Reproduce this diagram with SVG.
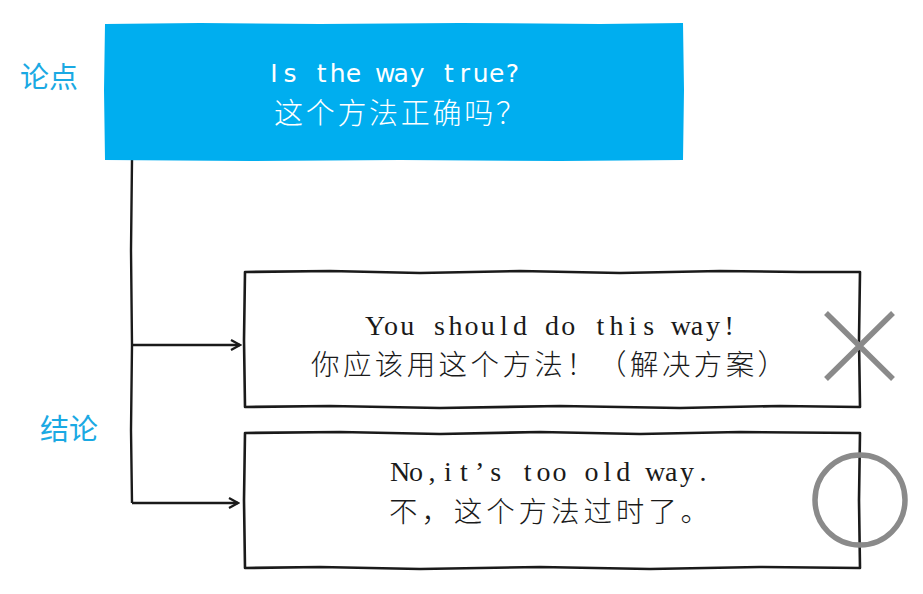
<svg xmlns="http://www.w3.org/2000/svg" width="923" height="594" viewBox="0 0 923 594">
<style>
.lbl{font-family:"Noto Sans CJK SC","Noto Sans",sans-serif;font-size:29px;fill:#1aa9e3}
.en-w{font-family:"DejaVu Sans","Noto Sans",sans-serif;font-size:25px;fill:#fff}
.cn-w{font-family:"Noto Sans CJK SC",sans-serif;font-size:29px;fill:#fff;letter-spacing:2.7px;font-weight:300}
.en-b{font-family:"Liberation Serif","Noto Sans CJK SC",serif;font-size:28px;fill:#1a1a1a}
.cn-b{font-family:"Noto Sans CJK SC",sans-serif;font-size:28.5px;fill:#1a1a1a;letter-spacing:3.4px;font-weight:300}
.box{fill:#fff;stroke:#1a1a1a;stroke-width:2.6;stroke-linejoin:round}
.conn{fill:none;stroke:#1a1a1a;stroke-width:2.4}
.mark{fill:none;stroke:#8a8a8a;stroke-width:5.5;stroke-linecap:butt}
</style>
<defs>
<marker id="arr" viewBox="0 0 12 12" refX="10" refY="6" markerWidth="12" markerHeight="12" markerUnits="userSpaceOnUse" orient="auto">
<path d="M1,1 L10,6 L1,11" fill="none" stroke="#1a1a1a" stroke-width="2.2"/>
</marker>
</defs>
<rect width="923" height="594" fill="#fff"/>

<g id="connectors">
<path class="conn" d="M132,160 L131,250 L132,345 L131,430 L132,503"/>
<path class="conn" d="M132,345 L240,345" marker-end="url(#arr)"/>
<path class="conn" d="M132,503 L238,503" marker-end="url(#arr)"/>
</g>

<g id="label-argument">
<text class="lbl" x="20" y="88">论点</text>
</g>
<g id="label-conclusion">
<text class="lbl" x="40" y="440">结论</text>
</g>

<g id="node-question">
<path d="M105,24 L200,23 L320,24 L460,23 L600,24 L683,23 L684,90 L683,160 L560,161 L400,160 L250,161 L105,160 L104,90 Z" fill="#00aeef"/>
<text class="en-w" y="82" text-anchor="middle" x="274 289.9 305.8 321.7 337.6 353.5 369.4 385.3 401.2 417.1 433 448.9 464.8 480.7 496.6 512.5">Is the way true?</text>
<text class="cn-w" x="274" y="124">这个方法正确吗？</text>
</g>

<g id="node-solution">
<path class="box" d="M245,272 L330,271 L420,273 L520,271 L620,273 L720,271 L800,272 L860,272 L859,340 L860,407 L780,406 L680,408 L560,406 L440,408 L330,406 L245,407 L244,340 Z"/>
<text class="en-b" y="335" text-anchor="middle" x="375 391.1 407.2 423.3 439.4 455.5 471.6 487.7 503.8 519.9 536 552.1 568.2 584.3 600.4 616.5 632.6 648.7 664.8 680.9 697 713.1 729.2">You should do this way!</text>
<text class="cn-b" x="311" y="375">你应该用这个方法！（解决方案）</text>
</g>

<g id="node-refute">
<path class="box" d="M245,433 L340,432 L440,434 L540,432 L640,434 L740,432 L860,433 L859,500 L860,568 L760,567 L650,569 L540,567 L420,569 L320,567 L245,568 L244,500 Z"/>
<text class="en-b" y="481" text-anchor="middle" x="400 415.95 431.9 447.85 463.8 479.75 495.7 511.65 527.6 543.55 559.5 575.45 591.4 607.35 623.3 639.25 655.2 671.15 687.1 703.05">No,it’s too old way.</text>
<text class="cn-b" x="389" y="522" style="letter-spacing:3.9px">不，这个方法过时了。</text>
</g>

<g id="mark-cross">
<path class="mark" d="M826,313 L893,379 M893,313 L826,379"/>
</g>
<g id="mark-circle">
<circle class="mark" cx="860" cy="500" r="45"/>
</g>
</svg>
